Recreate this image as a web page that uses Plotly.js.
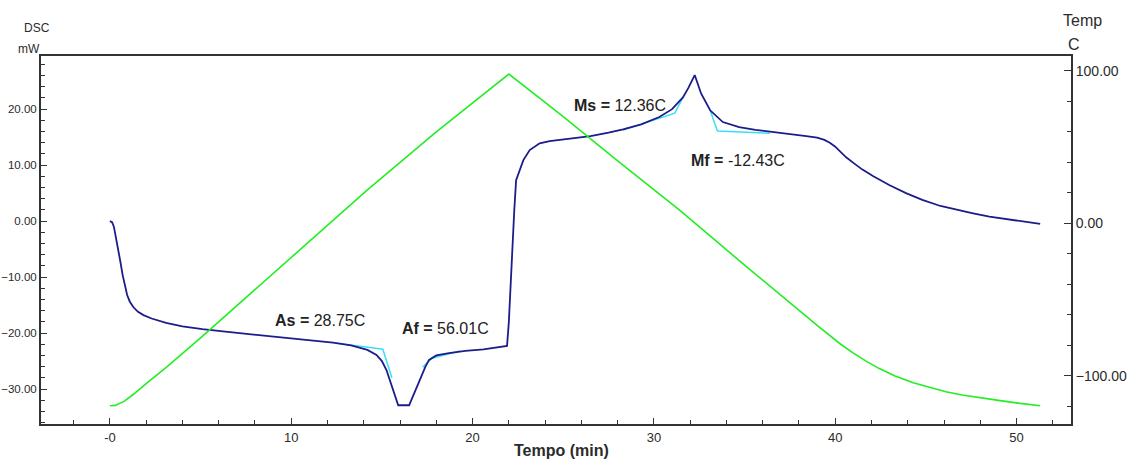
<!DOCTYPE html>
<html>
<head>
<meta charset="utf-8">
<script src="https://cdn.plot.ly/plotly-3.0.1.min.js"></script>
<style>html,body{margin:0;padding:0;background:#fff;}#chart{width:1140px;height:463px;}</style>
</head>
<body>
<div id="chart"></div>
<script>
// DSC heat flow (mW) vs time (min)
var dscTime = [0, 0.12, 0.22, 0.32, 0.45, 0.58, 0.7, 0.82, 0.95, 1.1, 1.3, 1.55, 1.85, 2.3, 3.1, 4, 5.1, 6.5, 8.65, 10.5, 12.3, 13.3, 14.2, 14.7, 15.0, 15.25, 15.5, 15.7, 15.9, 16.5, 16.8, 17.1, 17.4, 17.6, 18.0, 18.7, 19.6, 20.6, 21.6, 21.9, 22.0, 22.16, 22.3, 22.4, 22.6, 22.8, 23.15, 23.7, 24.25, 25.4, 26.5, 27.5, 28.3, 29.3, 30.3, 31.0, 31.6, 31.9, 32.25, 32.6, 33.1, 33.8, 34.7, 35.6, 36.5, 37.4, 38.4, 39.0, 39.4, 39.7, 40.0, 40.3, 40.6, 41.0, 41.5, 42.1, 43.0, 43.9, 44.8, 45.8, 46.7, 47.6, 48.5, 49.4, 50.3, 51.3];
var dscValue = [0, -0.2, -1.0, -2.6, -4.8, -7.3, -9.6, -11.6, -13.2, -14.4, -15.4, -16.2, -16.8, -17.4, -18.2, -18.8, -19.3, -19.8, -20.5, -21.0, -21.7, -22.2, -23.0, -23.9, -25.0, -26.6, -28.9, -31.0, -32.9, -32.9, -30.5, -28.4, -26.0, -24.8, -24.0, -23.6, -23.2, -22.9, -22.5, -22.3, -18.0, -6.4, 2.0, 7.3, 9.1, 10.9, 12.7, 13.9, 14.3, 14.7, 15.2, 15.8, 16.4, 17.3, 18.6, 20.0, 22.1, 23.8, 26.1, 22.8, 19.8, 17.7, 16.8, 16.3, 15.9, 15.6, 15.2, 14.9, 14.5, 14.0, 13.3, 12.4, 11.4, 10.4, 9.2, 8.0, 6.4, 5.0, 3.8, 2.7, 2.0, 1.4, 0.8, 0.36, -0.1, -0.5];

// Temperature program (C) vs time (min)
var tempTime = [0, 0.3, 0.8, 1.3, 2.0, 3.14, 5.0, 6.8, 10.5, 14.2, 18.0, 22.0, 25.0, 28.0, 31.4, 35.1, 39.0, 39.7, 40.3, 41.0, 41.7, 42.4, 43.3, 44.3, 45.2, 46.1, 47.0, 48.0, 49.0, 50.2, 51.3];
var tempValue = [-119.5, -119.3, -116.5, -112, -105, -94, -75, -56, -17, 22, 60, 98, 70, 41, 8.9, -28.3, -66.8, -73.7, -79.2, -85, -90.3, -95, -100, -104.5, -107.7, -110.4, -112.5, -114.4, -116, -118, -119.5];

// Onset tangent constructions (time, mW)
var asTime = [12.5, 15.05, 15.55];
var asValue = [-21.8, -22.9, -28.0];
var afTime = [17.25, 17.75, 19.3];
var afValue = [-26.1, -24.5, -23.2];
var msTime = [28.3, 31.15, 31.6];
var msValue = [16.25, 19.3, 22.1];
var mfTime = [33.1, 33.5, 36.4];
var mfValue = [19.8, 16.1, 15.7];

// Axis ticks
var xTickVals = [0, 10, 20, 30, 40, 50];
var xTickText = ["-0", "10", "20", "30", "40", "50"];

// Labels
var labelNames = ["As =", "Af =", "Ms =", "Mf ="];
var labelValues = ["28.75C", "56.01C", "12.36C", "-12.43C"];

var FONT = "Liberation Sans, Arial, sans-serif";
var TXT = "#2b2b2b";
var cyan = "#38e0f5";

var traces = [
  {x: asTime, y: asValue, mode: "lines", line: {color: cyan, width: 1.5}, yaxis: "y", hoverinfo: "skip"},
  {x: afTime, y: afValue, mode: "lines", line: {color: cyan, width: 1.5}, yaxis: "y", hoverinfo: "skip"},
  {x: msTime, y: msValue, mode: "lines", line: {color: cyan, width: 1.5}, yaxis: "y", hoverinfo: "skip"},
  {x: mfTime, y: mfValue, mode: "lines", line: {color: cyan, width: 1.5}, yaxis: "y", hoverinfo: "skip"},
  {x: tempTime, y: tempValue, mode: "lines", line: {color: "#22ee22", width: 1.6}, yaxis: "y2", name: "Temp"},
  {x: dscTime, y: dscValue, mode: "lines", line: {color: "#1c1c8a", width: 1.8}, yaxis: "y", name: "DSC"}
];

var labelPos = [[8.99, -17.8], [15.99, -19.2], [25.47, 20.7], [31.92, 10.9]];
var annotations = labelNames.map(function(n, i) {
  return {x: labelPos[i][0], y: labelPos[i][1], xref: "x", yref: "y", xanchor: "left", yanchor: "middle",
    text: "<b>" + n + "</b> " + labelValues[i], showarrow: false,
    font: {family: FONT, size: 16, color: "#222"}};
});
var pixLabels = [
  {x: 36.5, y: 28, text: "DSC", size: 12},
  {x: 28.5, y: 48.5, text: "mW", size: 12},
  {x: 1082, y: 20, text: "Temp", size: 16},
  {x: 1074, y: 45, text: "C", size: 16},
  {x: 561, y: 450, text: "<b>Tempo (min)</b>", size: 16}
];
var W = 1140, H = 463, ml = 41, mr = 69, mt = 56, mb = 39;
pixLabels.forEach(function(p) {
  annotations.push({
    xref: "paper", yref: "paper",
    x: (p.x - ml) / (W - ml - mr),
    y: (H - mb - p.y) / (H - mt - mb),
    xanchor: "center", yanchor: "middle",
    text: p.text, showarrow: false,
    font: {family: FONT, size: p.size, color: TXT}
  });
});

var layout = {
  width: W, height: H,
  margin: {l: ml, r: mr, t: mt, b: mb, pad: 0},
  paper_bgcolor: "#fff", plot_bgcolor: "#fff",
  showlegend: false,
  font: {family: FONT, color: TXT},
  xaxis: {
    range: [-3.8, 53], showgrid: false, zeroline: false,
    showline: true, linecolor: "#333", linewidth: 2, mirror: true,
    tickmode: "array", tickvals: xTickVals, ticktext: xTickText,
    ticks: "inside", ticklen: 6, tickcolor: "#333", tickwidth: 1,
    minor: {tickmode: "linear", tick0: 0, dtick: 2, ticks: "inside", ticklen: 4, tickcolor: "#333"},
    tickfont: {family: FONT, size: 13, color: TXT}
  },
  yaxis: {
    range: [-36.25, 29.5], showgrid: false, zeroline: false,
    showline: true, linecolor: "#333", linewidth: 2, mirror: false,
    dtick: 10, tick0: 0, tickformat: ".2f",
    ticks: "inside", ticklen: 6, tickcolor: "#333", tickwidth: 1,
    minor: {dtick: 2, ticks: "inside", ticklen: 4, tickcolor: "#333"},
    tickfont: {family: FONT, size: 11.5, color: TXT}
  },
  yaxis2: {
    range: [-131.5, 109.8], overlaying: "y", side: "right",
    showgrid: false, zeroline: false,
    showline: true, linecolor: "#333", linewidth: 2,
    dtick: 100, tick0: 0, tickformat: ".2f",
    ticks: "inside", ticklen: 7, tickcolor: "#333", tickwidth: 1,
    minor: {dtick: 20, ticks: "inside", ticklen: 4, tickcolor: "#333"},
    tickfont: {family: FONT, size: 14, color: TXT}
  },
  annotations: annotations
};

Plotly.newPlot("chart", traces, layout, {displayModeBar: false, staticPlot: true});
</script>
</body>
</html>
